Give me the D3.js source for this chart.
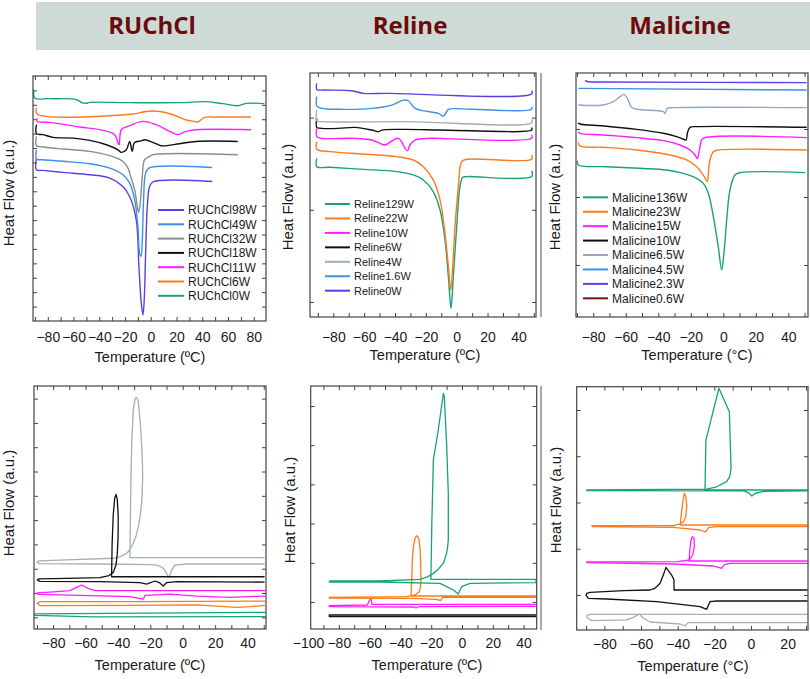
<!DOCTYPE html>
<html>
<head>
<meta charset="utf-8">
<script src="https://cdn.jsdelivr.net/npm/d3@7"></script>
<style>
body { margin: 0; background: #fff; }
text { font-family: "Liberation Sans", Arial, sans-serif; }
</style>
</head>
<body>
<svg id="fig" width="810" height="679"></svg>
<script>
// ---- column titles ----
var groupTitles = ["RUChCl", "Reline", "Malicine"];

// ---- tick labels ----
var ticksA = [-80, -60, -40, -20, 0, 20, 40, 60, 80];
var ticksB = [-80, -60, -40, -20, 0, 20, 40];
var ticksC = [-100, -80, -60, -40, -20, 0, 20, 40];
var ticksD = [-80, -60, -40, -20, 0, 20];

// ---- RUChCl heating (top left), [T, heat flow a.u.] ----
var ruchclLabels = ["RUChCl98W", "RUChCl49W", "RUChCl32W", "RUChCl18W", "RUChCl11W", "RUChCl6W", "RUChCl0W"];
var ruchclColors = ["#5a3fe2", "#3d8fe8", "#7f9291", "#111111", "#ff1eff", "#ff7a1a", "#17a27a"];
var ruchcl98 = [[-88.8,10.31],[-88.8,9.5],[-83.6,9.45],[-68.1,9.31],[-47.4,9.15],[-31.9,8.92],[-21.6,8.34],[-16.4,7.64],[-11.3,6.02],[-9.2,2.78],[-7.6,0.46],[-6.1,-0.58],[-5.1,0.46],[-4.0,3.7],[-2.7,6.94],[-0.9,8.33],[1.7,8.66],[47.7,8.68]];
var ruchcl49 = [[-88.8,10.88],[-88.8,10.24],[-83.6,10.19],[-68.1,10.08],[-47.4,9.91],[-31.9,9.61],[-21.6,9.15],[-16.4,8.57],[-12.5,7.41],[-10.0,5.56],[-8.7,3.7],[-7.6,3.47],[-6.6,4.63],[-5.6,7.41],[-4.0,9.26],[-1.4,9.61],[47.7,9.65]];
var ruchcl32 = [[-88.8,11.81],[-88.8,11.16],[-83.6,11.07],[-68.1,10.93],[-47.4,10.77],[-31.9,10.47],[-21.6,10.07],[-17.7,9.61],[-16.4,9.26],[-12.5,8.1],[-10.5,6.94],[-9.45,6.55],[-8.2,7.18],[-6.6,9.03],[-4.8,10.19],[-0.9,10.42],[1.7,10.54],[67.5,10.54]];
var ruchcl18 = [[-88.8,12.62],[-88.8,12.0],[-83.6,11.93],[-75.9,11.74],[-60.4,11.69],[-47.4,11.53],[-34.5,11.23],[-25.5,10.88],[-22.9,10.7],[-19.0,10.88],[-16.4,11.46],[-14.4,10.77],[-12.6,11.39],[-7.5,11.5],[-4.8,11.58],[4.2,11.3],[8.1,11.16],[22.3,11.3],[35.2,11.46],[67.5,11.46]];
var ruchcl11 = [[-88.3,13.08],[-88.3,12.85],[-78.4,12.78],[-55.2,12.46],[-37.1,12.23],[-28.1,11.93],[-24.7,11.23],[-22.9,12.27],[-16.4,12.55],[-6.1,12.85],[4.2,12.62],[14.6,12.16],[21.0,11.93],[27.5,12.16],[35.2,12.27],[77.9,12.27]];
var ruchcl6 = [[-88.8,13.78],[-88.3,13.36],[-13.8,13.36],[-6.1,13.5],[1.7,13.57],[9.4,13.5],[17.2,13.31],[27.5,12.95],[33.9,12.85],[36.5,12.81],[41.7,13.13],[50.8,13.15],[77.9,13.15]];
var ruchcl0 = [[-90.9,15.05],[-90.1,14.47],[-78.4,14.43],[-57.8,14.36],[-53.1,14.13],[-50.5,14.1],[-47.4,14.17],[-16.4,14.15],[22.3,14.15],[43,14.22],[55.9,14.08],[67.5,13.94],[74,14.1],[88.2,14.08]];
var ruchclSeries = [ruchcl98, ruchcl49, ruchcl32, ruchcl18, ruchcl11, ruchcl6, ruchcl0];

// ---- Reline heating (top middle) ----
var relineLabels = ["Reline129W", "Reline22W", "Reline10W", "Reline6W", "Reline4W", "Reline1.6W", "Reline0W"];
var relineColors = ["#17a27a", "#ff7a1a", "#ff1eff", "#111111", "#9cafb6", "#3d8fe8", "#5a3fe2"];
var reline129 = [[-90.7,15.58],[-90.7,14.68],[-82.1,14.61],[-60.5,14.39],[-38.9,14.14],[-28.1,13.78],[-21.6,13.24],[-15.2,11.97],[-10.8,9.98],[-7.6,6.73],[-5.4,2.75],[-3.7,-0.68],[-2.2,2.75],[0.0,8.17],[2.1,12.51],[3.9,13.52],[6.5,13.6],[48.6,13.6],[48.6,14.25]];
var reline22 = [[-90.7,17.39],[-90.7,16.56],[-82.1,16.31],[-60.5,16.05],[-38.9,15.77],[-28.1,15.4],[-21.6,14.68],[-15.2,13.24],[-10.8,11.07],[-7.6,7.45],[-5.4,3.84],[-3.9,1.3],[-2.6,3.84],[-1.1,8.17],[1.1,12.51],[3.2,15.22],[6.5,15.48],[48.6,15.48],[48.6,15.95]];
var reline10 = [[-90.7,18.83],[-90.7,17.93],[-87.5,17.75],[-65.9,17.75],[-55.1,17.57],[-48.6,17.13],[-46.5,17.03],[-44.3,17.21],[-41.1,17.57],[-37.8,17.75],[-35.7,17.39],[-33.5,16.66],[-31.8,16.41],[-30.3,17.03],[-27.0,17.57],[-18.4,17.75],[-11.9,17.75],[48.6,17.75],[48.6,18.11]];
var reline6 = [[-90.7,19.92],[-90.7,18.94],[-87.5,18.83],[-76.7,18.83],[-65.9,18.94],[-55.1,18.65],[-50.8,18.47],[-48.6,18.65],[-33.5,18.72],[-11.9,18.65],[9.7,18.58],[48.6,18.65],[48.6,18.94]];
var reline4 = [[-90.7,20.82],[-90.7,19.66],[-87.5,19.56],[-33.5,19.56],[48.6,19.45],[48.6,19.81]];
var reline16 = [[-90.7,22.27],[-90.7,21.26],[-87.5,21.0],[-76.7,20.9],[-55.1,21.0],[-42.1,21.36],[-34.6,21.9],[-31.3,21.83],[-27.0,21.0],[-11.9,20.46],[-8.7,20.17],[-6.5,20.64],[-5.4,20.9],[9.7,20.9],[48.6,20.9],[48.6,21.18]];
var reline0 = [[-90.7,23.71],[-90.7,23.06],[-85.3,22.99],[-68.1,22.92],[-60.5,22.63],[-44.3,22.63],[48.6,22.56],[48.6,22.92]];
var relineSeries = [reline129, reline22, reline10, reline6, reline4, reline16, reline0];

// ---- Malicine heating (top right) ----
var malicineLabels = ["Malicine136W", "Malicine23W", "Malicine15W", "Malicine10W", "Malicine6.5W", "Malicine4.5W", "Malicine2.3W", "Malicine0.6W"];
var malicineColors = ["#17a27a", "#ff7a1a", "#ff1eff", "#111111", "#93a7c0", "#3d8fe8", "#5a3ef0", "#7b1010"];
var malicine136 = [[-89.8,15.35],[-89.2,14.71],[-71.8,14.46],[-51.3,14.22],[-34.9,13.97],[-24.6,13.48],[-16.4,12.75],[-12.3,12.01],[-9.2,10.54],[-6.1,7.11],[-3.1,2.7],[-1.0,-0.73],[0.4,1.72],[2.1,6.62],[4.1,11.03],[7.2,13.24],[10.3,13.58],[50.3,13.58]];
var malicine23 = [[-89.2,17.99],[-88.1,17.5],[-73.8,17.31],[-53.3,16.92],[-32.8,16.18],[-22.5,15.45],[-16.4,14.46],[-12.3,13.24],[-9.8,12.26],[-9.2,13.48],[-8.2,15.44],[-6.1,16.67],[-3.1,16.91],[51.3,16.91]];
var malicine15 = [[-89.2,19.61],[-88.1,19.37],[-73.8,19.12],[-53.3,18.73],[-36.9,18.29],[-26.6,17.65],[-20.5,16.92],[-17.4,16.18],[-16.0,15.64],[-14.7,16.92],[-13.3,18.39],[-11.2,18.73],[51.3,18.73]];
var malicine10 = [[-89.2,20.93],[-88.1,20.74],[-73.8,20.45],[-53.3,19.95],[-36.9,19.37],[-28.7,18.88],[-24.6,18.53],[-22.9,18.39],[-22.1,19.37],[-20.5,20.25],[-16.4,20.35],[51.3,20.25]];
var malicine65 = [[-89.2,23.53],[-73.8,23.53],[-67.6,24.02],[-63.5,24.76],[-61.1,25.1],[-59.0,24.51],[-56.4,23.19],[-53.3,22.9],[-36.9,22.55],[-35.8,22.31],[-34.4,23.04],[-30.7,23.14],[51.3,23.14]];
var malicine45 = [[-89.2,25.98],[51.3,25.74]];
var malicine23w = [[-85.1,27.11],[-83.0,26.96],[-73.8,26.92],[51.3,26.82]];
var malicine06 = [];
var malicineSeries = [malicine136, malicine23, malicine15, malicine10, malicine65, malicine45, malicine23w, malicine06];

// ---- RUChCl cooling + heating loops (bottom left) ----
var ruchclLoopColors = ["#a3b1af", "#111111", "#ff1eff", "#ff7a1a", "#17a27a"];
var ruchclLoop32 = [[50.5,24.55],[-32.6,24.55],[-32.1,51],[-31.5,71.6],[-30.5,85.3],[-29.6,89.5],[-28.8,90.5],[-28.0,90.0],[-27.4,88.5],[-26.2,80],[-25.4,71.6],[-24.9,64],[-24.7,57.9],[-25.0,51],[-25.4,46.9],[-26.3,41.5],[-27.4,37.3],[-28.8,33.5],[-30.5,30.5],[-32.5,28],[-34.6,26.3],[-38.5,25],[-42.8,24.3],[-71.6,23.6],[-89.1,23.2],[-89.8,22.6],[-88.5,22.1],[-51.1,21.95],[-18.2,21.7],[-14.5,21.2],[-12.0,20.2],[-10.5,18.8],[-9.5,17.4],[-8.3,16.5],[-7.5,18],[-6.8,19.5],[-4.8,21.5],[2.4,21.95],[50.5,21.95]];
var ruchclLoop18 = [[50.5,16.7],[-43.9,16.7],[-43.6,30],[-42.9,42],[-42.0,49],[-41.2,50.6],[-40.4,48.5],[-39.8,41.4],[-39.9,33],[-40.4,26],[-41.2,21.5],[-42.8,18.6],[-45.5,17.2],[-51.1,16.3],[-71.6,16.0],[-89.1,15.8],[-89.8,15.4],[-88.1,14.8],[-51.1,14.7],[-26.4,14.3],[-22.3,13.7],[-17.1,14.95],[-14.5,14.3],[-12.0,12.9],[-9.9,14.3],[-3.7,14.7],[50.5,14.5]];
var ruchclLoop11 = [[50.8,10.95],[-54.2,10.95],[-58.3,11.9],[-62.4,13.3],[-65.5,12.3],[-69.6,10.95],[-82,10.4],[-89.2,10.1],[-90.2,9.85],[-89.2,9.44],[-63.4,9.0],[-32.6,8.5],[-24.3,7.5],[-23.3,9.0],[-7.9,9.58],[8.6,8.76],[29.2,8.2],[50.8,8.76]];
var ruchclLoop6 = [[50.8,6.7],[-32.6,6.42],[-88.1,6.42],[-89.8,5.74],[-88.1,4.78],[-32.6,4.91],[8.6,5.1],[33.3,4.09],[41.5,4.36],[50.8,4.9]];
var ruchclLoop0 = [[51.2,2.06],[-91.3,1.38],[-91.3,0.83],[-55.2,0.14],[51.2,0.27]];
var ruchclLoops = [ruchclLoop32, ruchclLoop18, ruchclLoop11, ruchclLoop6, ruchclLoop0];

// ---- Reline loops (bottom middle) ----
var relineLoopColors = ["#111111", "#ff1eff", "#ff7a1a", "#17a27a"];
var relineLoop6 = [[48.0,-3.32],[-86.2,-3.32],[-86.2,-3.75],[48.0,-3.75]];
var relineLoop10 = [[48.0,-0.6],[-58.5,-0.6],[-59.1,0.85],[-60.2,0.34],[-61.5,-0.77],[-86.2,-0.94],[-86.2,-1.2],[-31.6,-1.28],[-29.9,-1.53],[-28.4,-1.2],[48.0,-1.11]];
var relineLoop22 = [[48.0,1.53],[-33.1,1.53],[-32.6,6],[-32.3,10.7],[-31.7,13.6],[-31.0,15.4],[-30.2,16.5],[-29.5,16.9],[-28.6,16.6],[-27.9,15.8],[-27.2,13.5],[-26.9,10.7],[-26.6,5.6],[-27.1,3.6],[-27.7,2.6],[-30.5,1.8],[-36.0,1.36],[-86.2,1.19],[-86.2,1.02],[-31.6,0.93],[-16.5,0.68],[-13.9,0.34],[-12.6,1.19],[48.0,1.19]];
var relineLoop129 = [[48.0,5.78],[-20.2,5.78],[-19.6,20],[-18.6,36.2],[-15.4,43.9],[-12.1,53.2],[-11.5,52.4],[-10.0,40.5],[-8.9,27.7],[-8.9,15.8],[-9.4,13.8],[-10.0,12.4],[-12.1,9.9],[-15.5,8.3],[-18.6,7.3],[-22.5,6.4],[-27.3,5.78],[-53.3,5.35],[-85.7,5.35],[-86.2,5.1],[-53.3,5.1],[-14.3,4.76],[-5.6,3.06],[-2.4,2.04],[-0.2,3.91],[5.2,4.76],[48.0,4.93],[48.0,5.78]];
var relineLoops = [relineLoop6, relineLoop10, relineLoop22, relineLoop129];

// ---- Malicine loops (bottom right) ----
var malicineLoopColors = ["#a3b1af", "#111111", "#ff1eff", "#ff7a1a", "#17a27a"];
var malicineLoop65 = [[30.9,-4.18],[-87.8,-4.18],[-89.6,-4.4],[-89.2,-5.04],[-86.9,-5.55],[-67.8,-5.4],[-64.2,-4.83],[-60.9,-4.1],[-58.7,-5.04],[-55.1,-5.84],[-38.7,-6.27],[-36.0,-6.7],[-34.2,-5.98],[30.9,-5.98]];
var malicineLoop10 = [[30.9,1.08],[-42.0,1.08],[-42.0,3.25],[-43.3,4.32],[-46.4,5.98],[-47.5,4.68],[-49.6,2.52],[-52.4,1.44],[-55.1,1.08],[-69.6,0.94],[-87.8,0.58],[-89.6,0.36],[-90.0,-0.07],[-88.7,-0.72],[-78.7,-0.87],[-51.5,-1.44],[-27.8,-2.52],[-24.2,-3.1],[-22.4,-1.44],[-18.7,-1.3],[30.9,-1.3]];
var malicineLoop15 = [[30.9,7.35],[-33.8,7.35],[-33.5,9.0],[-32.9,11.5],[-32.0,12.6],[-31.1,12.25],[-30.9,10.45],[-31.8,8.65],[-33.6,7.57],[-40,7.2],[-89.6,7.13],[-89.6,6.99],[-42.4,6.7],[-20.6,6.27],[-16.0,5.77],[-14.7,6.49],[-11.5,6.85],[30.9,6.85]];
var malicineLoop23 = [[30.9,15.14],[-38.6,15.14],[-38.2,16.9],[-37.3,19.8],[-36.4,22.0],[-35.5,21.26],[-35.1,19.1],[-35.6,16.9],[-36.9,15.8],[-39.1,15.3],[-42.4,15.0],[-86.9,15.0],[-86.4,14.77],[-42.4,14.63],[-27.8,14.05],[-24.7,13.62],[-23.3,14.56],[-18.7,14.77],[30.9,14.77]];
var malicineLoop136 = [[30.9,22.7],[-25.1,22.7],[-24.6,33.5],[-17.5,44.7],[-11.8,39.6],[-10.9,27.4],[-11.6,25.6],[-13.3,24.5],[-18.7,23.4],[-24.2,22.9],[-89.6,22.7],[-89.6,22.56],[-4.0,22.5],[-1.3,22.1],[0.5,21.4],[2.4,22.0],[6.9,22.4],[30.9,22.5]];
var malicineLoops = [malicineLoop65, malicineLoop10, malicineLoop15, malicineLoop23, malicineLoop136];

var svg = d3.select("#fig");

// header band
svg.append("rect").attr("x", 36).attr("y", 2).attr("width", 774).attr("height", 48).attr("fill", "#cddad6");
svg.selectAll("text.group")
    .data(groupTitles)
    .enter()
    .append("text")
    .attr("class", "group")
    .attr("x", function(d, i) { return [152, 410, 680][i]; })
    .attr("y", 34)
    .attr("text-anchor", "middle")
    .style("font-family", "'Open Sans', sans-serif")
    .attr("font-weight", "bold")
    .attr("font-size", "24px")
    .attr("fill", "#6b0b0b")
    .text(function(d) { return d; });

function drawPanel(p) {
    var x = d3.scaleLinear().domain(p.xDomain).range([p.left, p.right]);
    var y = d3.scaleLinear().domain(p.yDomain).range([p.bottom, p.top]);
    var g = svg.append("g");

    svg.append("clipPath").attr("id", "clip" + p.id)
        .append("rect")
        .attr("x", p.left).attr("y", p.top)
        .attr("width", p.right - p.left).attr("height", p.bottom - p.top);

    var minor = d3.range(Math.ceil(p.xDomain[0] / 10) * 10, p.xDomain[1] + 0.01, 10);
    function clean(a) {
        a.select(".domain").remove();
        a.selectAll("line").attr("stroke", "#444");
    }
    g.append("g").attr("transform", "translate(0," + p.bottom + ")")
        .call(d3.axisTop(x).tickValues(minor).tickSize(4).tickFormat("")).call(clean);
    g.append("g").attr("transform", "translate(0," + p.top + ")")
        .call(d3.axisBottom(x).tickValues(minor).tickSize(4).tickFormat("")).call(clean);
    g.append("g").attr("transform", "translate(" + p.left + ",0)")
        .call(d3.axisRight(y).tickValues(p.yTicks).tickSize(4).tickFormat("")).call(clean);
    g.append("g").attr("transform", "translate(" + p.right + ",0)")
        .call(d3.axisLeft(y).tickValues(p.yTicks).tickSize(4).tickFormat("")).call(clean);

    var lab = g.append("g").attr("transform", "translate(0," + p.bottom + ")")
        .call(d3.axisBottom(x).tickValues(p.xLabels).tickSize(0));
    lab.select(".domain").remove();
    lab.attr("font-family", null).attr("font-size", null);
    lab.selectAll("text")
        .attr("y", p.labelY - p.bottom)
        .attr("dy", null)
        .attr("font-size", "14px")
        .attr("fill", "#1a1a1a");

    var line = d3.line()
        .x(function(d) { return x(d[0]); })
        .y(function(d) { return y(d[1]); })
        .curve(p.smooth ? d3.curveCatmullRom.alpha(0.5) : d3.curveLinear);

    g.append("g").attr("clip-path", "url(#clip" + p.id + ")")
        .selectAll("path")
        .data(p.series.filter(function(d) { return d.length > 1; }))
        .enter()
        .append("path")
        .attr("d", line)
        .attr("fill", "none")
        .attr("stroke", function(d) { return p.colors[p.series.indexOf(d)]; })
        .attr("stroke-width", p.lw)
        .attr("stroke-linejoin", "round");

    g.append("rect")
        .attr("x", p.left).attr("y", p.top)
        .attr("width", p.right - p.left).attr("height", p.bottom - p.top)
        .attr("fill", "none").attr("stroke", "#444").attr("stroke-width", 1.2);

    g.append("text")
        .attr("x", p.xTitle[0]).attr("y", p.xTitle[1])
        .attr("text-anchor", "middle")
        .attr("font-size", "14.5px")
        .attr("fill", "#1a1a1a")
        .text(p.xText);

    g.append("text")
        .attr("transform", "translate(" + p.yTitle[0] + "," + p.yTitle[1] + ") rotate(-90)")
        .attr("text-anchor", "middle")
        .attr("font-size", "15px")
        .attr("fill", "#1a1a1a")
        .text("Heat Flow (a.u.)");

    if (p.legend) {
        var L = p.legend;
        var lg = g.append("g");
        lg.selectAll("line")
            .data(L.labels)
            .enter()
            .append("line")
            .attr("x1", L.x1).attr("x2", L.x2)
            .attr("y1", function(d, i) { return L.y0 + i * L.dy; })
            .attr("y2", function(d, i) { return L.y0 + i * L.dy; })
            .attr("stroke", function(d, i) { return p.colors[i]; })
            .attr("stroke-width", 2);
        lg.selectAll("text")
            .data(L.labels)
            .enter()
            .append("text")
            .attr("x", L.tx)
            .attr("y", function(d, i) { return L.y0 + i * L.dy + L.size * 0.36; })
            .attr("font-size", L.size + "px")
            .attr("fill", "#1a1a1a")
            .text(function(d) { return d; });
    }
}

drawPanel({ id: 1, left: 33, right: 266, top: 76, bottom: 321,
    xDomain: [-91.5, 89.5], yDomain: [-1, 16], yTicks: d3.range(0, 16, 1),
    xLabels: ticksA, labelY: 342, xTitle: [150, 362], xText: "Temperature (ºC)", yTitle: [14, 193],
    series: ruchclSeries, colors: ruchclColors, lw: 1.4, smooth: true,
    legend: { labels: ruchclLabels, x1: 158, x2: 184, tx: 188, y0: 210, dy: 14.3, size: 12 } });

drawPanel({ id: 2, left: 310, right: 536, top: 73, bottom: 317,
    xDomain: [-95.1, 51.4], yDomain: [-1.63, 24.84], yTicks: [0, 10, 20],
    xLabels: ticksB, labelY: 342, xTitle: [425, 360], xText: "Temperature (ºC)", yTitle: [293, 197],
    series: relineSeries, colors: relineColors, lw: 1.4, smooth: true,
    legend: { labels: relineLabels, x1: 325, x2: 350, tx: 354, y0: 204, dy: 14.45, size: 11 } });

drawPanel({ id: 3, left: 576, right: 808, top: 73, bottom: 317,
    xDomain: [-90.6, 52.1], yDomain: [-7.65, 28.24], yTicks: [0, 10, 20],
    xLabels: ticksB, labelY: 342, xTitle: [697, 360], xText: "Temperature (°C)", yTitle: [560, 197],
    series: malicineSeries, colors: malicineColors, lw: 1.4, smooth: true,
    legend: { labels: malicineLabels, x1: 583, x2: 608, tx: 612, y0: 197.3, dy: 14.43, size: 12 } });

drawPanel({ id: 4, left: 34, right: 266, top: 386, bottom: 629,
    xDomain: [-91.8, 51.4], yDomain: [-4.81, 95.2], yTicks: d3.range(0, 100, 10),
    xLabels: ticksB, labelY: 648, xTitle: [150, 670], xText: "Temperature (ºC)", yTitle: [13.5, 503],
    series: ruchclLoops, colors: ruchclLoopColors, lw: 1.3, smooth: false });

drawPanel({ id: 5, left: 310.7, right: 536.7, top: 386, bottom: 629,
    xDomain: [-98.25, 48.5], yDomain: [-6.89, 55.1], yTicks: d3.range(0, 60, 10),
    xLabels: ticksC, labelY: 648, xTitle: [427, 670], xText: "Temperature (ºC)", yTitle: [295, 510],
    series: relineLoops, colors: relineLoopColors, lw: 1.3, smooth: false });

drawPanel({ id: 6, left: 576.7, right: 808, top: 386.7, bottom: 630,
    xDomain: [-95.1, 31.1], yDomain: [-7.57, 45.04], yTicks: d3.range(0, 50, 10),
    xLabels: ticksD, labelY: 649, xTitle: [693, 671], xText: "Temperature (°C)", yTitle: [561, 500],
    series: malicineLoops, colors: malicineLoopColors, lw: 1.3, smooth: false });

// stray axis line between middle and right columns
svg.append("line").attr("x1", 541).attr("x2", 541).attr("y1", 73).attr("y2", 317)
    .attr("stroke", "#555").attr("stroke-width", 1);
svg.append("line").attr("x1", 541).attr("x2", 541).attr("y1", 386).attr("y2", 630)
    .attr("stroke", "#555").attr("stroke-width", 1);
</script>
</body>
</html>
